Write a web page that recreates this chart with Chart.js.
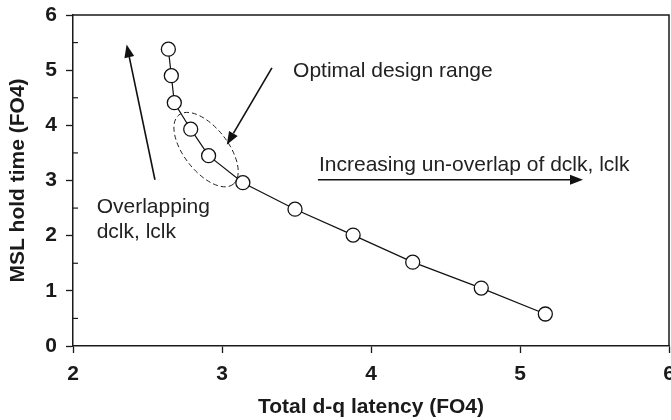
<!DOCTYPE html>
<html>
<head>
<meta charset="utf-8">
<script src="https://cdn.jsdelivr.net/npm/chart.js@4.4.1/dist/chart.umd.min.js"></script>
<style>
  html, body { margin: 0; padding: 0; background: #fff; }
  #wrap { width: 671px; height: 420px; }
</style>
</head>
<body>
<div id="wrap"><canvas id="c" width="671" height="420"></canvas></div>
<script>
// ---- data ----
const latency = [2.64, 2.66, 2.68, 2.79, 2.91, 3.14, 3.49, 3.88, 4.28, 4.74, 5.17];
const holdTime = [5.38, 4.90, 4.41, 3.93, 3.45, 2.96, 2.48, 2.01, 1.52, 1.05, 0.58];
const xTickValues = [2, 3, 4, 5, 6];
const yTickValues = [0, 1, 2, 3, 4, 5, 6];
const yMinorTicks = [0.5, 1.5, 2.5, 3.5, 4.5, 5.5];
const xTitle = 'Total d-q latency (FO4)';
const yTitle = 'MSL hold time (FO4)';

// annotations anchored in data units
const textNotes = [
  { text: 'Optimal design range', x: 3.477, y: 4.87 },
  { text: 'Increasing un-overlap of dclk, lclk', x: 3.651, y: 3.164 },
  { text: 'Overlapping', x: 2.159, y: 2.413 },
  { text: 'dclk, lclk', x: 2.159, y: 1.958 }
];
const arrowNotes = [
  { from: [3.335, 5.04], to: [3.032, 3.65] },
  { from: [2.550, 3.013], to: [2.360, 5.467] },
  { from: [3.644, 3.013], to: [5.423, 3.013] }
];
const ellipseNote = { x: 2.893, y: 3.56 };

const data = latency.map((x, i) => ({ x: x, y: holdTime[i] }));

const FONT = '"Liberation Sans", Arial, Helvetica, sans-serif';
const zeroPad = () => ({ left: 0, top: 0, right: 0, bottom: 0 });

const annotationPlugin = {
  id: 'annot',
  afterDatasetsDraw(chart) {
    const ctx = chart.ctx;
    const xs = chart.scales.x, ys = chart.scales.y;
    const area = chart.chartArea;
    ctx.save();
    // frame top & right
    ctx.strokeStyle = '#1a1a1a';
    ctx.lineWidth = 1.5;
    ctx.beginPath();
    ctx.moveTo(area.left, area.top);
    ctx.lineTo(area.right, area.top);
    ctx.lineTo(area.right, area.bottom);
    ctx.stroke();
    // minor inward ticks on y axis
    ctx.lineWidth = 1.2;
    yMinorTicks.forEach(v => {
      const py = ys.getPixelForValue(v);
      ctx.beginPath();
      ctx.moveTo(area.left, py);
      ctx.lineTo(area.left + 5, py);
      ctx.stroke();
    });
    // ellipse
    const ex = xs.getPixelForValue(ellipseNote.x), ey = ys.getPixelForValue(ellipseNote.y);
    ctx.setLineDash([5, 3]);
    ctx.lineWidth = 1;
    ctx.strokeStyle = '#222';
    ctx.beginPath();
    ctx.ellipse(ex, ey, 44, 22, 52 * Math.PI / 180, 0, Math.PI * 2);
    ctx.stroke();
    ctx.setLineDash([]);
    // arrows
    ctx.strokeStyle = '#111';
    ctx.fillStyle = '#111';
    arrowNotes.forEach(a => {
      const x1 = xs.getPixelForValue(a.from[0]), y1 = ys.getPixelForValue(a.from[1]);
      const x2 = xs.getPixelForValue(a.to[0]), y2 = ys.getPixelForValue(a.to[1]);
      const ang = Math.atan2(y2 - y1, x2 - x1);
      const hl = 13, hw = 5;
      const bx = x2 - hl * Math.cos(ang), by = y2 - hl * Math.sin(ang);
      ctx.lineWidth = 1.6;
      ctx.beginPath();
      ctx.moveTo(x1, y1);
      ctx.lineTo(bx, by);
      ctx.stroke();
      ctx.beginPath();
      ctx.moveTo(x2, y2);
      ctx.lineTo(bx + hw * Math.sin(ang), by - hw * Math.cos(ang));
      ctx.lineTo(bx - hw * Math.sin(ang), by + hw * Math.cos(ang));
      ctx.closePath();
      ctx.fill();
    });
    // texts
    ctx.fillStyle = '#222';
    ctx.font = '21px ' + FONT;
    ctx.textAlign = 'left';
    ctx.textBaseline = 'alphabetic';
    textNotes.forEach(t => {
      ctx.fillText(t.text, xs.getPixelForValue(t.x), ys.getPixelForValue(t.y));
    });
    ctx.restore();
  }
};

new Chart(document.getElementById('c'), {
  type: 'line',
  data: {
    datasets: [{
      data: data,
      borderColor: '#111',
      borderWidth: 1.2,
      pointRadius: 7,
      pointHoverRadius: 7,
      pointBorderWidth: 1.3,
      pointBorderColor: '#111',
      pointBackgroundColor: '#fff',
      pointStyle: 'circle',
      tension: 0,
      fill: false
    }]
  },
  options: {
    responsive: false,
    animation: false,
    devicePixelRatio: 1,
    layout: { autoPadding: false, padding: { left: 0, right: 2, top: 15, bottom: 0 } },
    plugins: { legend: { display: false }, tooltip: { enabled: false } },
    scales: {
      x: {
        type: 'linear',
        min: 2, max: 6,
        afterBuildTicks(scale) { scale.ticks = xTickValues.map(v => ({ value: v })); },
        afterFit(scale) {
          scale.height = 74;
          scale.paddingLeft = 0; scale.paddingRight = 0;
          scale.getPadding = zeroPad;
        },
        ticks: {
          color: '#1a1a1a',
          padding: 9,
          maxRotation: 0,
          font: { family: FONT, size: 21, weight: 'bold' }
        },
        grid: {
          drawOnChartArea: false,
          drawTicks: true,
          tickLength: 7,
          tickColor: '#1a1a1a',
          tickWidth: 1.3
        },
        border: { display: true, color: '#1a1a1a', width: 1.5 },
        title: {
          display: true,
          text: xTitle,
          color: '#1a1a1a',
          padding: { top: 0, bottom: 0 },
          font: { family: FONT, size: 21, weight: 'bold' }
        }
      },
      y: {
        type: 'linear',
        min: 0, max: 6,
        afterBuildTicks(scale) { scale.ticks = yTickValues.map(v => ({ value: v })); },
        afterFit(scale) {
          scale.width = 73;
          scale.paddingTop = 0; scale.paddingBottom = 0;
          scale.getPadding = zeroPad;
        },
        ticks: {
          color: '#1a1a1a',
          padding: 9,
          font: { family: FONT, size: 21, weight: 'bold' }
        },
        grid: {
          drawOnChartArea: false,
          drawTicks: true,
          tickLength: 7,
          tickColor: '#1a1a1a',
          tickWidth: 1.3
        },
        border: { display: true, color: '#1a1a1a', width: 1.5 },
        title: {
          display: true,
          text: yTitle,
          color: '#1a1a1a',
          padding: { top: 6, bottom: 0 },
          font: { family: FONT, size: 21, weight: 'bold' }
        }
      }
    }
  },
  plugins: [annotationPlugin]
});
</script>
</body>
</html>
